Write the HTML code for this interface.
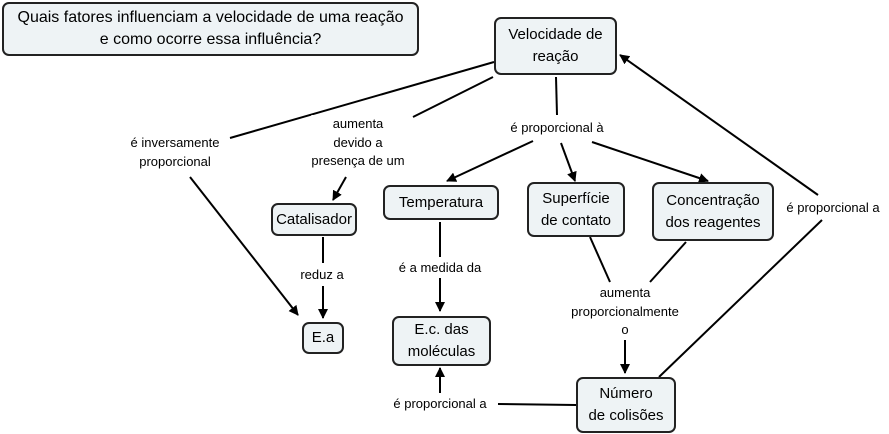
<!DOCTYPE html>
<html><head><meta charset="utf-8"><style>
body{margin:0;width:889px;height:434px;background:#fff;position:relative;overflow:hidden;font-family:"Comic Sans MS","Liberation Sans",sans-serif;}
.n{position:absolute;box-sizing:border-box;border:2px solid #222;border-radius:7px;background:#eef3f5;display:flex;align-items:center;justify-content:center;text-align:center;font-size:15px;line-height:22px;color:#000;}
.l{position:absolute;text-align:center;font-size:13px;line-height:18.5px;color:#000;background:#fff;transform:translateX(-50%);white-space:nowrap;}
svg{position:absolute;left:0;top:0;}
</style></head><body>
<svg width="889" height="434">
<defs><marker id="a" markerWidth="10" markerHeight="10" refX="9" refY="5" orient="auto" markerUnits="userSpaceOnUse"><path d="M0,0 L10,5 L0,10 Z" fill="#000"/></marker></defs>
<g stroke="#000" stroke-width="2" fill="none">
<line x1="494" y1="62" x2="230" y2="138"/>
<line x1="493" y1="77" x2="413" y2="117"/>
<line x1="190" y1="177" x2="298" y2="315" marker-end="url(#a)"/>
<line x1="346" y1="177" x2="333" y2="200" marker-end="url(#a)"/>
<line x1="556" y1="77" x2="557" y2="115"/>
<line x1="533" y1="141" x2="447" y2="181" marker-end="url(#a)"/>
<line x1="561" y1="143" x2="575" y2="181" marker-end="url(#a)"/>
<line x1="592" y1="142" x2="708" y2="181" marker-end="url(#a)"/>
<line x1="818" y1="195" x2="620" y2="55" marker-end="url(#a)"/>
<line x1="822" y1="220" x2="659" y2="377"/>
<line x1="323" y1="237" x2="323" y2="263"/>
<line x1="323" y1="286" x2="323" y2="318" marker-end="url(#a)"/>
<line x1="440" y1="222" x2="440" y2="257"/>
<line x1="440" y1="278" x2="440" y2="311" marker-end="url(#a)"/>
<line x1="590" y1="237" x2="610" y2="282"/>
<line x1="686" y1="242" x2="650" y2="282"/>
<line x1="625" y1="340" x2="625" y2="373" marker-end="url(#a)"/>
<line x1="576" y1="405" x2="498" y2="404"/>
<line x1="440" y1="393" x2="440" y2="368" marker-end="url(#a)"/>
</g></svg>
<div class="n" style="left:2px;top:2px;width:417px;height:54px;font-size:16px;">Quais fatores influenciam a velocidade de uma reação<br>e como ocorre essa influência?</div>
<div class="n" style="left:494px;top:17px;width:123px;height:58px;">Velocidade de<br>reação</div>
<div class="n" style="left:271px;top:203px;width:86px;height:33px;">Catalisador</div>
<div class="n" style="left:383px;top:185px;width:116px;height:35px;">Temperatura</div>
<div class="n" style="left:527px;top:182px;width:98px;height:55px;">Superfície<br>de contato</div>
<div class="n" style="left:652px;top:182px;width:122px;height:59px;">Concentração<br>dos reagentes</div>
<div class="n" style="left:302px;top:322px;width:42px;height:32px;">E.a</div>
<div class="n" style="left:392px;top:316px;width:99px;height:50px;">E.c. das<br>moléculas</div>
<div class="n" style="left:576px;top:377px;width:100px;height:56px;">Número<br>de colisões</div>
<div class="l" style="left:175px;top:134px;">é inversamente<br>proporcional</div>
<div class="l" style="left:358px;top:115px;">aumenta<br>devido a<br>presença de um</div>
<div class="l" style="left:557px;top:119px;">é proporcional à</div>
<div class="l" style="left:833px;top:199px;">é proporcional a</div>
<div class="l" style="left:322px;top:266px;">reduz a</div>
<div class="l" style="left:440px;top:259px;">é a medida da</div>
<div class="l" style="left:625px;top:284px;">aumenta<br>proporcionalmente<br>o</div>
<div class="l" style="left:440px;top:395px;">é proporcional a</div>
</body></html>
